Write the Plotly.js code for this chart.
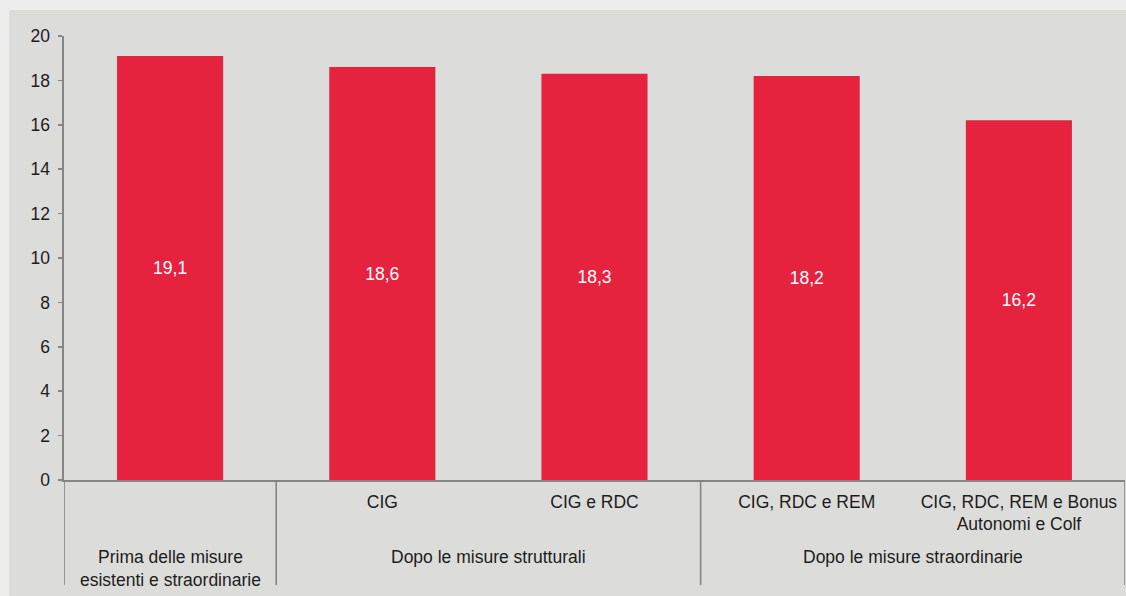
<!DOCTYPE html>
<html>
<head>
<meta charset="utf-8">
<script src="https://cdn.plot.ly/plotly-3.0.1.min.js"></script>
<style>
  html, body { margin: 0; padding: 0; background: #dcdcdb; }
  #chart { width: 1126px; height: 596px; }
</style>
</head>
<body>
<div id="chart"></div>
<script>
// ---- data ----
const categories = ["", "CIG", "CIG e RDC", "CIG, RDC e REM", "CIG, RDC, REM e Bonus<br>Autonomi e Colf"];
const values = [19.1, 18.6, 18.3, 18.2, 16.2];
const groups = ["Prima delle misure<br>esistenti e straordinarie", "Dopo le misure strutturali", "Dopo le misure straordinarie"];
const groupOfCategory = [0, 1, 1, 2, 2];
const yTicks = [0, 2, 4, 6, 8, 10, 12, 14, 16, 18, 20];

// ---- styles ----
const FONT = "Liberation Sans, Arial, sans-serif";
const FS = 17.5;
const TXT = "#1c1c1c";
const AXC = "#858585";
const BAR = "#e5233f";

const idx = categories.map((_, i) => i);

const trace = {
  type: "bar",
  x: idx,
  y: values,
  marker: { color: BAR, line: { width: 0 } },
  texttemplate: "%{y:.1f}",
  textposition: "inside",
  insidetextanchor: "middle",
  textangle: 0,
  textfont: { family: FONT, size: FS, color: "#ffffff" },
  hoverinfo: "none"
};

// group boundaries and centres, computed from the arrays
const shapes = [];
const annotations = [];
const bounds = [];
groups.forEach((g, gi) => {
  const members = idx.filter(i => groupOfCategory[i] === gi);
  const lo = Math.min(...members) - 0.5;
  const hi = Math.max(...members) + 0.5;
  const mid = (Math.min(...members) + Math.max(...members)) / 2;
  if (gi === 0) bounds.push(lo);
  bounds.push(hi);
  annotations.push({
    xref: "x", yref: "paper", x: mid, y: -0.146,
    xanchor: "center", yanchor: "top",
    text: g, showarrow: false,
    font: { family: FONT, size: FS, color: TXT }
  });
});
bounds.forEach(b => {
  shapes.push({
    type: "line", xref: "x", yref: "paper",
    x0: b, x1: b, y0: 0, y1: -0.2365,
    line: { color: AXC, width: 1.6 }
  });
});
// light outer frame bands (top and left)
shapes.push({ type: "rect", xref: "paper", yref: "paper", x0: -0.0603, x1: 1.01, y0: 1.0586, y1: 1.09,
  fillcolor: "#ededed", line: { width: 0 }, layer: "below" });
shapes.push({ type: "rect", xref: "paper", yref: "paper", x0: -0.0603, x1: -0.0518, y0: -0.3, y1: 1.09,
  fillcolor: "#ededed", line: { width: 0 }, layer: "below" });

const layout = {
  width: 1126, height: 596,
  margin: { l: 64, r: 1, t: 36, b: 116, pad: 0 },
  paper_bgcolor: "#dcdcdb",
  plot_bgcolor: "#dcdcdb",
  separators: ",.",
  bargap: 0.5,
  showlegend: false,
  font: { family: FONT, size: FS, color: TXT },
  xaxis: {
    type: "linear",
    range: [-0.5, categories.length - 0.5],
    tickvals: idx,
    ticktext: categories,
    ticks: "",
    showgrid: false,
    zeroline: false,
    showline: true,
    linecolor: AXC,
    linewidth: 1.6,
    tickfont: { family: FONT, size: FS, color: TXT },
    ticklabelstandoff: 5,
    fixedrange: true
  },
  yaxis: {
    range: [0, 20],
    tickvals: yTicks,
    ticktext: yTicks.map(String),
    ticks: "outside",
    ticklen: 4,
    tickwidth: 1.5,
    tickcolor: AXC,
    showgrid: false,
    zeroline: false,
    showline: true,
    linecolor: AXC,
    linewidth: 1.6,
    tickfont: { family: FONT, size: FS, color: TXT },
    ticklabelstandoff: 5,
    fixedrange: true
  },
  shapes: shapes,
  annotations: annotations
};

Plotly.newPlot("chart", [trace], layout, { displayModeBar: false, staticPlot: true });
</script>
</body>
</html>
